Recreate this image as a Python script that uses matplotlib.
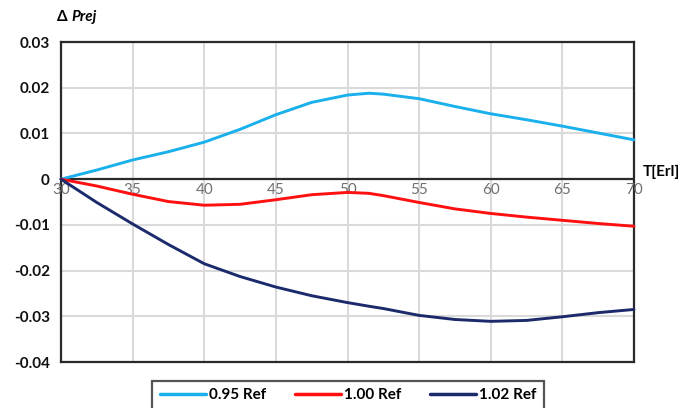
import matplotlib
matplotlib.use("Agg")
import matplotlib.pyplot as plt

# ---- data ----
T = [30, 32.5, 35, 37.5, 40, 42.5, 45, 47.5, 50, 51.5, 52.5, 55, 57.5, 60, 62.5, 65, 67.5, 70]
ref_095 = [0, 0.0020, 0.0042, 0.0060, 0.0081, 0.0109, 0.0141, 0.0168, 0.0184, 0.0188, 0.0186,
           0.0176, 0.0159, 0.0143, 0.0130, 0.0116, 0.0101, 0.0086]
ref_100 = [0, -0.0015, -0.0033, -0.0049, -0.0057, -0.0055, -0.0045, -0.0034, -0.0029, -0.0031, -0.0036,
           -0.0051, -0.0065, -0.0075, -0.0083, -0.0090, -0.0097, -0.0103]
ref_102 = [0, -0.0051, -0.0098, -0.0143, -0.0185, -0.0213, -0.0236, -0.0255, -0.0270, -0.0278, -0.0283,
           -0.0298, -0.0307, -0.0311, -0.0309, -0.0301, -0.0292, -0.0285]
series_labels = ["0.95 Ref", "1.00 Ref", "1.02 Ref"]
x_ticks = [30, 35, 40, 45, 50, 55, 60, 65, 70]
y_ticks = [-0.04, -0.03, -0.02, -0.01, 0, 0.01, 0.02, 0.03]
y_tick_labels = ["-0.04", "-0.03", "-0.02", "-0.01", "0", "0.01", "0.02", "0.03"]
x_label = "T[Erl]"

colors = ["#1AB0EC", "#FF1010", "#1B2A6B"]

plt.rcParams['font.family'] = ['Lato', 'DejaVu Sans']

fig = plt.figure(figsize=(6.91, 4.08), dpi=100)
ax = fig.add_axes([0.0883, 0.1127, 0.8292, 0.7843])

ax.set_xlim(30, 70)
ax.set_ylim(-0.04, 0.03)

ax.set_xticks(x_ticks)
ax.set_yticks(y_ticks)
ax.set_yticklabels(y_tick_labels, fontsize=11, fontweight='bold', color='#111111')
ax.tick_params(axis='x', labelbottom=False, length=0)
ax.tick_params(axis='y', length=0, pad=8)
ax.grid(True, color='#DADADA', linewidth=1.5)
ax.set_axisbelow(True)

for s in ax.spines.values():
    s.set_color('#2A2A2A')
    s.set_linewidth(1.6)

ax.axhline(0, color='#2A2A2A', linewidth=1.6, zorder=2)

for xt in x_ticks:
    ax.text(xt, -0.0008, str(xt), ha='center', va='top', fontsize=11, color='#707070')

lines = []
for ys, c, lab in zip([ref_095, ref_100, ref_102], colors, series_labels):
    ln, = ax.plot(T, ys, color=c, linewidth=2.1, label=lab, zorder=3, clip_on=False,
                  solid_joinstyle='round', solid_capstyle='round')
    lines.append(ln)

fig.text(0.930, 0.578, x_label, fontsize=11, fontweight='bold', ha='left', va='center')
fig.text(0.083, 0.958, "Δ", fontsize=11, fontweight='bold', ha='left', va='center')
fig.text(0.103, 0.958, "Prej", fontsize=11, fontweight='bold', fontstyle='italic', ha='left', va='center')

leg = fig.legend(handles=lines, loc='upper center', bbox_to_anchor=(0.504, 0.086), ncol=3,
                 frameon=True, fancybox=False, prop={'weight': 'bold', 'size': 11},
                 handlelength=3.0, handletextpad=0.2, columnspacing=1.9,
                 borderpad=0.5, edgecolor='#2A2A2A')
leg.get_frame().set_linewidth(1.6)
for h in leg.get_lines():
    h.set_linewidth(2.5)

fig.savefig("out.png", dpi=100)
